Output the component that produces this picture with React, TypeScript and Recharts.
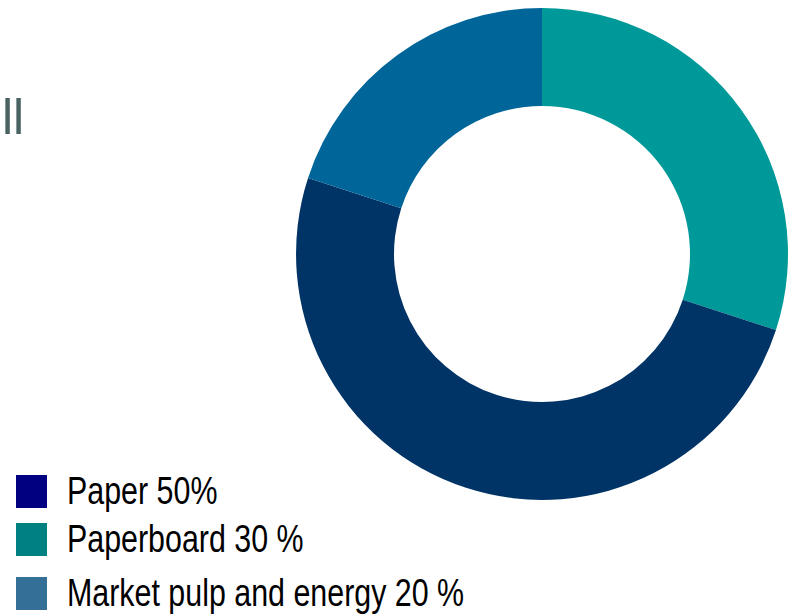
import React from 'react';
import { PieChart, Pie, Cell, Legend } from 'recharts';

// slices in drawing order (clockwise from 12 o'clock)
const sliceNames = ['Paperboard', 'Paper', 'Market pulp and energy'];
const sliceValues = [30, 50, 20];
const sliceColors = ['#009999', '#003366', '#006699'];

// legend rows as printed
const legendLabels = ['Paper 50%', 'Paperboard 30 %', 'Market pulp and energy 20 %'];
const legendColors = ['#000080', '#008080', '#336f96'];
const legendTops = [0, 48, 102];

const data = sliceNames.map((name, i) => ({ name, value: sliceValues[i] }));

const font = '"Liberation Sans", Arial, sans-serif';

const LegendRows = () => (
  <div style={{ position: 'relative', width: 480, height: 140 }}>
    {legendLabels.map((label, i) => (
      <div key={label} style={{ position: 'absolute', left: 0, top: legendTops[i], height: 34, display: 'flex', alignItems: 'center' }}>
        <span style={{ width: 31, height: 33, background: legendColors[i], display: 'inline-block', flex: 'none' }} />
        <span
          style={{
            marginLeft: 20,
            fontFamily: font,
            fontSize: 38,
            color: '#000',
            whiteSpace: 'nowrap',
            lineHeight: '34px',
            display: 'inline-block',
            transform: 'scaleX(0.8)',
            transformOrigin: 'left center',
          }}
        >
          {label}
        </span>
      </div>
    ))}
  </div>
);

const App: React.FC = () => {
  return (
    <div style={{ position: 'absolute', left: 0, top: 0, width: 791, height: 614, background: '#fff', overflow: 'hidden' }}>
      <div style={{ position: 'absolute', left: 2, top: 87, fontFamily: font, fontSize: 50, color: '#4a6262', lineHeight: '60px' }}>
        ll
      </div>
      <PieChart width={791} height={614} margin={{ top: 0, right: 0, bottom: 0, left: 0 }}>
        <Pie
          data={data}
          dataKey="value"
          nameKey="name"
          cx={542}
          cy={254}
          innerRadius={148}
          outerRadius={246}
          startAngle={90}
          endAngle={-270}
          stroke="none"
          isAnimationActive={false}
        >
          {data.map((d, i) => (
            <Cell key={d.name} fill={sliceColors[i]} />
          ))}
        </Pie>
        <Legend
          content={<LegendRows />}
          wrapperStyle={{ position: 'absolute', left: 16, top: 474, width: 480, height: 140 }}
        />
      </PieChart>
    </div>
  );
};

export default App;
